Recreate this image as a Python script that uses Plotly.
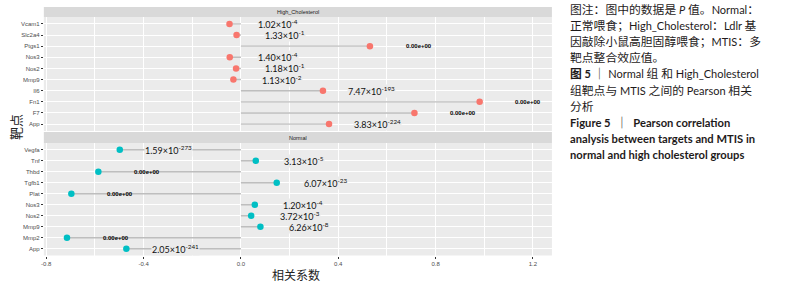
import plotly.graph_objects as go

# ---------------- data ----------------
high_genes = ["App", "F7", "Fn1", "Il6", "Mmp9", "Nos2", "Nos3", "Ptgs1", "Slc2a4", "Vcam1"]
high_cor = [0.362, 0.713, 0.981, 0.337, -0.031, -0.020, -0.046, 0.530, -0.018, -0.047]
high_p = ["3.83e-224", "0", "0", "7.47e-193", "1.13e-2", "1.18e-1", "1.40e-4", "0", "1.33e-1", "1.02e-4"]

normal_genes = ["App", "Mmp2", "Mmp9", "Nos2", "Nos3", "Plat", "Tgfb1", "Thbd", "Tnf", "Vegfa"]
normal_cor = [-0.471, -0.715, 0.080, 0.042, 0.057, -0.697, 0.147, -0.586, 0.061, -0.498]
normal_p = ["2.05e-241", "0", "6.26e-8", "3.72e-3", "1.20e-4", "0", "6.07e-23", "0", "3.13e-5", "1.59e-273"]

label_offset = 0.2
x_ticks = [-0.8, -0.4, 0.0, 0.4, 0.8, 1.2]
x_ticktext = ["-0.8", "-0.4", "0.0", "0.4", "0.8", "1.2"]

# (text, bold?, latin font size)
caption_lines = [
    ("图注：图中的数据是 P 值。Normal：", False, 11),
    ("正常喂食；High_Cholesterol：Ldlr 基", False, 11),
    ("因敲除小鼠高胆固醇喂食；MTIS：多", False, 11),
    ("靶点整合效应值。", False, 11),
    ("图 5 ｜ Normal 组 和 High_Cholesterol", False, 11),
    ("组靶点与 MTIS 之间的 Pearson 相关", False, 11),
    ("分析", False, 11),
    ("Figure 5  ｜  Pearson correlation", True, 11.2),
    ("analysis between targets and MTIS in", True, 11.2),
    ("normal and high cholesterol groups", True, 11.2),
]

# ---------------- geometry ----------------
W, H = 795, 288
def px_x(p): return p / W
def px_y(p): return 1 - p / H

x_dom = [px_x(41), px_x(551)]
top_dom = [px_y(131), px_y(17)]
bot_dom = [px_y(255.5), px_y(143)]

RED = "#F8766D"
TEAL = "#00BFC4"
SEG = "#BEBEBE"

fig = go.Figure()

def add_panel(genes, cor, color, xa, ya):
    sx, sy = [], []
    for g, v in zip(genes, cor):
        sx += [0, v, None]
        sy += [g, g, None]
    fig.add_trace(go.Scatter(x=sx, y=sy, mode="lines", line=dict(color=SEG, width=1.4),
                             xaxis=xa, yaxis=ya, hoverinfo="skip", showlegend=False))
    fig.add_trace(go.Scatter(x=cor, y=genes, mode="markers",
                             marker=dict(color=color, size=6.5, line=dict(width=0)),
                             xaxis=xa, yaxis=ya, showlegend=False))

add_panel(high_genes, high_cor, RED, "x2", "y2")
add_panel(normal_genes, normal_cor, TEAL, "x", "y")

def fmt(p):
    if p == "0":
        return "0.00e+00", True
    m, e = p.split("e")
    return f"{m}×10<sup>{e}</sup>", False

annotations = []
def add_labels(genes, cor, pvals, xref, yref):
    for g, v, p in zip(genes, cor, pvals):
        t, small = fmt(p)
        if small:
            annotations.append(dict(x=v + label_offset, y=g, xref=xref, yref=yref, text=t,
                                    showarrow=False, xanchor="center", yanchor="middle",
                                    font=dict(size=6, color="#000000", family="Liberation Sans", weight=700)))
        else:
            annotations.append(dict(x=v + label_offset, y=g, xref=xref, yref=yref, text=t,
                                    showarrow=False, xanchor="center", yanchor="middle",
                                    bgcolor="#EBEBEB", borderpad=0,
                                    font=dict(size=9, color="#111111", family="Lato")))

add_labels(high_genes, high_cor, high_p, "x2", "y2")
add_labels(normal_genes, normal_cor, normal_p, "x", "y")

# strips
shapes = [
    dict(type="rect", xref="paper", yref="paper", x0=x_dom[0], x1=x_dom[1],
         y0=px_y(17), y1=px_y(7), fillcolor="#D9D9D9", line=dict(width=0), layer="below"),
    dict(type="rect", xref="paper", yref="paper", x0=x_dom[0], x1=x_dom[1],
         y0=px_y(143), y1=px_y(132), fillcolor="#D9D9D9", line=dict(width=0), layer="below"),
]
annotations.append(dict(x=(x_dom[0] + x_dom[1]) / 2, y=px_y(12), xref="paper", yref="paper",
                        text="High_Cholesterol", showarrow=False, xanchor="center", yanchor="middle",
                        font=dict(size=5.5, color="#1A1A1A", family="Liberation Sans")))
annotations.append(dict(x=(x_dom[0] + x_dom[1]) / 2, y=px_y(137.5), xref="paper", yref="paper",
                        text="Normal", showarrow=False, xanchor="center", yanchor="middle",
                        font=dict(size=5.5, color="#1A1A1A", family="Liberation Sans")))

# axis titles
annotations.append(dict(x=px_x(12), y=px_y(127), xref="paper", yref="paper", text="靶点",
                        showarrow=False, textangle=-90, xanchor="center", yanchor="middle",
                        font=dict(size=13, color="#222222", family="Noto Sans CJK SC")))
annotations.append(dict(x=px_x(294), y=px_y(274), xref="paper", yref="paper", text="相关系数",
                        showarrow=False, xanchor="center", yanchor="middle",
                        font=dict(size=12, color="#222222", family="Noto Sans CJK SC")))

# caption: Latin runs in a smaller Latin face, CJK runs in Noto Sans CJK
def mixed(txt, lat_size):
    out, buf, is_lat = [], "", None
    def flush(b, lat):
        if not b:
            return
        if lat:
            b2 = b.replace(" P ", " <i>P</i> ")
            out.append(f'<span style="font-size:{lat_size}px">{b2}</span>')
        else:
            out.append(b)
    for ch in txt:
        lat = ord(ch) < 128
        if is_lat is None or lat == is_lat:
            buf += ch
        else:
            flush(buf, is_lat)
            buf = ch
        is_lat = lat
    flush(buf, is_lat)
    s = "".join(out)
    if txt.startswith("图 5"):
        s = s.replace('图<span style="font-size:%spx"> 5 </span>' % lat_size,
                      '<b>图<span style="font-size:%spx"> 5 </span></b>' % lat_size, 1)
    return s

for i, (txt, bold, lsz) in enumerate(caption_lines):
    annotations.append(dict(x=px_x(567), y=px_y(9.5 + 16.1 * i), xref="paper", yref="paper",
                            text=mixed(txt, lsz), showarrow=False, xanchor="left", yanchor="middle",
                            font=dict(size=11.8, color="#1E1A1A", family="Lato, Noto Sans CJK SC",
                                      weight=700 if bold else 400)))

xrange = [-0.81, 1.278]
common_x = dict(range=xrange, domain=x_dom, showgrid=True, gridcolor="white", gridwidth=1,
                zeroline=False, tickvals=x_ticks, ticktext=x_ticktext,
                minor=dict(tick0=0, dtick=0.2, showgrid=True, gridcolor="white", gridwidth=1),
                showline=False)
common_y = dict(type="category", showgrid=True, gridcolor="white", gridwidth=1.3,
                zeroline=False, ticks="outside", ticklen=2, tickcolor="#333333", tickwidth=1,
                tickfont=dict(size=6, color="#4D4D4D", family="Liberation Sans"),
                range=[-0.62, 9.62], showline=False)

fig.update_layout(
    width=W, height=H, margin=dict(l=0, r=0, t=0, b=0),
    paper_bgcolor="white", plot_bgcolor="#EBEBEB",
    font=dict(family="Liberation Sans"),
    showlegend=False,
    xaxis=dict(**common_x, anchor="y", ticks="outside", ticklen=2, tickcolor="#333333",
               tickfont=dict(size=6, color="#4D4D4D", family="Liberation Sans")),
    xaxis2=dict(**common_x, anchor="y2", matches="x", showticklabels=False, ticks=""),
    yaxis=dict(**common_y, domain=bot_dom, anchor="x", categoryorder="array", categoryarray=normal_genes),
    yaxis2=dict(**common_y, domain=top_dom, anchor="x2", categoryorder="array", categoryarray=high_genes),
    shapes=shapes,
    annotations=annotations,
)

# remove the browser's default 8px body margin so the figure sits at the window corner
fig.write_html("out.html", config={"displayModeBar": False},
               post_script="document.body.style.margin='0px';")
